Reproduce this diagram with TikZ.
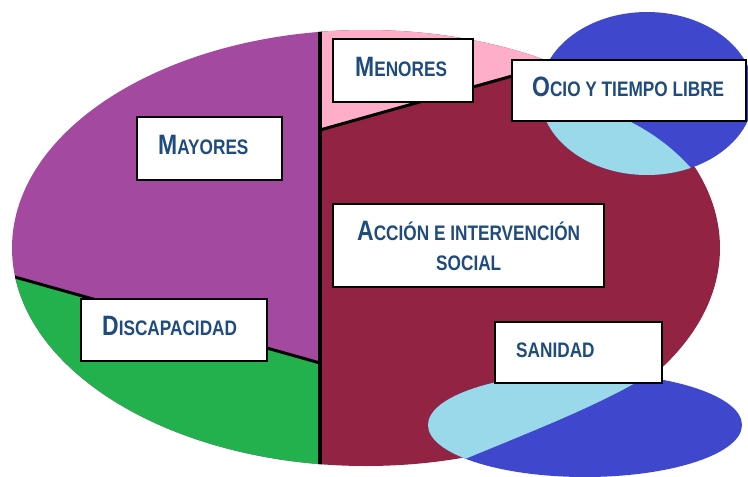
\documentclass[tikz,border=0pt]{standalone}
\usepackage{fontspec}
\newfontfamily\labfont{Liberation Sans}[FakeStretch=0.82]
\newcommand\SCa[1]{{\fontsize{28}{30}\selectfont #1}}
\newcommand\SCb[1]{{\fontsize{21}{24}\selectfont #1}}
\definecolor{cPurple}{RGB}{163,73,160}
\definecolor{cGreen}{RGB}{34,177,76}
\definecolor{cMaroon}{RGB}{147,35,66}
\definecolor{cPink}{RGB}{255,174,201}
\definecolor{cDark}{RGB}{63,72,204}
\definecolor{cLight}{RGB}{153,217,234}
\definecolor{cText}{RGB}{31,75,125}
\tikzset{
  box/.style={draw=black, line width=2pt, fill=white, inner sep=0pt, outer sep=0pt, anchor=north west},
  lbl/.style={text=cText, font=\labfont\bfseries, inner sep=0pt, anchor=base west},
  pieline/.style={draw=black, line width=3pt},
}
\begin{document}
\begin{tikzpicture}[x=1pt,y=-1pt]
\useasboundingbox (0,0) rectangle (748,477);
\fill[white] (0,0) rectangle (748,477);
% main pie
\begin{scope}
  \clip (366,248) ellipse [x radius=354, y radius=218];
  \fill[cPurple] (0,0) rectangle (320,477);
  \fill[cGreen] (-10,270) -- (320,363) -- (320,490) -- (-10,490) -- cycle;
  \fill[cMaroon] (320,0) rectangle (748,477);
  \fill[cPink] (320,130) -- (748,9.7) -- (748,-10) -- (320,-10) -- cycle;
  \coordinate (vt) at (320,0);
  \coordinate (vb) at (320,477);
  \coordinate (ml) at (-10,270);
  \coordinate (mr) at (320,363);
  \coordinate (pl) at (320,130);
  \coordinate (pr) at (748,9.7);
  \draw[pieline] (ml) -- (mr);
  \draw[pieline] (pl) -- (pr);
  \draw[pieline, line width=4pt] (vt) -- (vb);
\end{scope}
% top-right ellipse
\fill[cDark] (647,93.5) ellipse [x radius=107, y radius=81.5];
\begin{scope}
  \clip (647,93.5) ellipse [x radius=107, y radius=81.5];
  \fill[cLight] (770,255) -- (690,167) .. controls (655,128) and (600,100) .. (530,95) -- (530,255) -- cycle;
\end{scope}
% bottom ellipse
\fill[cDark] (585,425) ellipse [x radius=157, y radius=52];
\begin{scope}
  \clip (585,425) ellipse [x radius=157, y radius=52];
  \fill[cLight] (420,480) -- (465,459) .. controls (530,432) and (600,405) .. (647,376) -- (670,340) -- (400,340) -- (400,480) -- cycle;
\end{scope}
% boxes
\node[box, minimum width=140pt, minimum height=63pt] (menores) at (333,39) {};
\node[box, minimum width=234pt, minimum height=61pt] (ocio) at (512,60) {};
\node[box, minimum width=145pt, minimum height=63pt] (mayores) at (137,117) {};
\node[box, minimum width=271pt, minimum height=83pt] (accion) at (333,204) {};
\node[box, minimum width=186pt, minimum height=62pt] (discap) at (81,299) {};
\node[box, minimum width=167pt, minimum height=61pt] (sanidad) at (495,322) {};
% labels
\node[lbl] (menoresT) at (355,76) {\SCa{M}\SCb{ENORES}};
\node[lbl] (ocioT) at (532,96.5) {\SCa{O}\SCb{CIO Y TIEMPO LIBRE}};
\node[lbl] (mayoresT) at (158,154) {\SCa{M}\SCb{AYORES}};
\node[lbl] (accionT) at (357,240.5) {\SCa{A}\SCb{CCIÓN E INTERVENCIÓN}};
\node[lbl] (socialT) at (436,270) {\SCb{SOCIAL}};
\node[lbl] (discapT) at (102,335) {\SCa{D}\SCb{ISCAPACIDAD}};
\node[lbl] (sanidadT) at (516,357) {\SCb{SANIDAD}};
\end{tikzpicture}
\end{document}
